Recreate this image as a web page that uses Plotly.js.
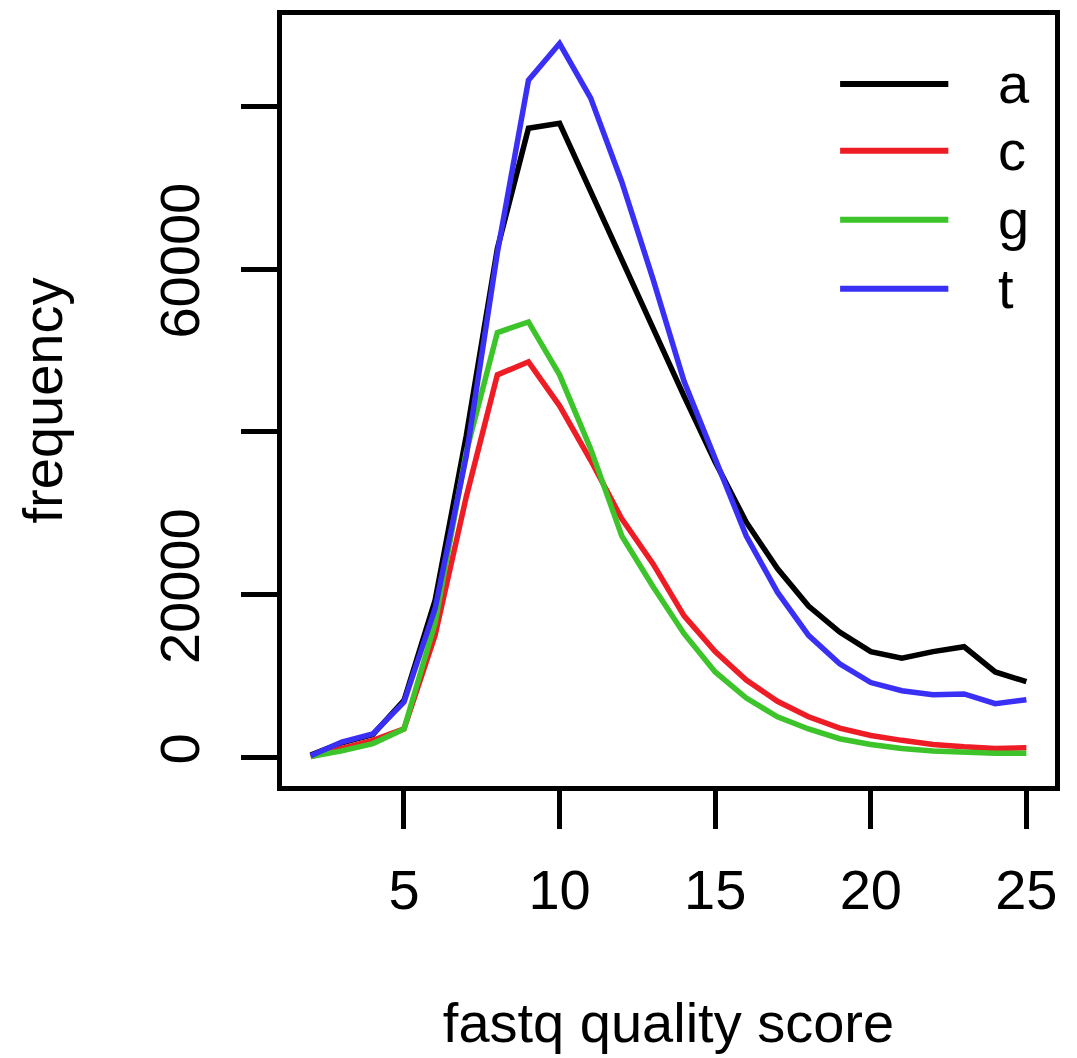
<!DOCTYPE html>
<html>
<head>
<meta charset="utf-8">
<script src="https://cdn.plot.ly/plotly-3.0.1.min.js"></script>
<style>html,body{margin:0;padding:0;background:#fff}#chart{width:1077px;height:1058px}</style>
</head>
<body>
<div id="chart"></div>
<script>
// fastq quality score
var qualityScore = [2,3,4,5,6,7,8,9,10,11,12,13,14,15,16,17,18,19,20,21,22,23,24,25];
// frequency per base
var freqA = [300,1800,2800,7000,19300,39500,62500,77300,77900,69500,61000,52600,44400,36300,28900,23200,18600,15400,13000,12200,13000,13600,10500,9300];
var freqC = [100,1100,2100,3500,15000,32000,47000,48600,43200,36500,29300,23800,17400,13000,9500,6900,5000,3600,2700,2100,1600,1300,1100,1200];
var freqG = [100,800,1700,3500,16500,37500,52200,53500,47000,37900,27200,21000,15200,10500,7300,5000,3500,2300,1600,1100,800,600,500,500];
var freqT = [200,1900,2900,6800,18300,37000,62000,83200,87700,81000,70700,58800,46200,36700,27200,20300,15000,11500,9200,8200,7700,7800,6600,7100];

var seriesNames = ["a","c","g","t"];
var seriesColors = ["#000000","#EE1C24","#3CC42A","#3A30F5"];
var seriesValues = [freqA, freqC, freqG, freqT];

var xTickVals = [5,10,15,20,25];
var yTickVals = [0,20000,40000,60000,80000];
var yTickText = ["0","20000","","60000",""];

var FONT = "Liberation Sans, Arial, Helvetica, sans-serif";
var FS = 56;

var traces = seriesNames.map(function(n,i){
  return {x: qualityScore, y: seriesValues[i], type:"scatter", mode:"lines", name:n,
          line:{color:seriesColors[i], width:5.5}, showlegend:false};
});

// legend drawn as in R (long line samples), positioned in paper coordinates
var shapes = [], annotations = [];
var legY = [0.9106, 0.8238, 0.7345, 0.6451];
seriesNames.forEach(function(n,i){
  shapes.push({type:"line", xref:"paper", yref:"paper", x0:0.722, x1:0.862, y0:legY[i], y1:legY[i],
               line:{color:seriesColors[i], width:6}});
  annotations.push({xref:"paper", yref:"paper", x:0.924, y:legY[i], text:n, showarrow:false,
                    xanchor:"left", yanchor:"middle", font:{family:FONT, size:FS, color:"#000"}});
});

var xmin = 2, xmax = 25, pad = (xmax-xmin)*0.04;
var ymax = 87700, ypad = ymax*0.04;

var layout = {
  width:1077, height:1058,
  margin:{l:282, r:22, t:15, b:272, pad:0},
  paper_bgcolor:"#fff", plot_bgcolor:"#fff",
  font:{family:FONT, size:FS, color:"#000"},
  showlegend:false,
  xaxis:{
    range:[xmin-pad, xmax+pad], tickvals:xTickVals, ticktext:xTickVals.map(String),
    showgrid:false, zeroline:false, showline:true, mirror:true, linewidth:5, linecolor:"#000",
    ticks:"outside", ticklen:38, tickwidth:5, tickcolor:"#000", ticklabelstandoff:13,
    tickfont:{family:FONT, size:FS, color:"#000"}, automargin:false,
    title:{text:"fastq quality score", font:{family:FONT, size:FS, color:"#000"}, standoff:84}
  },
  yaxis:{
    range:[-ypad, ymax+ypad], tickvals:yTickVals, ticktext:yTickText,
    showgrid:false, zeroline:false, showline:true, mirror:true, linewidth:5, linecolor:"#000",
    ticks:"outside", ticklen:36, tickwidth:5, tickcolor:"#000", tickangle:-90, ticklabelstandoff:20,
    tickfont:{family:FONT, size:FS, color:"#000"}, automargin:false,
    title:{text:"frequency", font:{family:FONT, size:FS, color:"#000"}, standoff:68}
  },
  shapes:shapes, annotations:annotations
};

Plotly.newPlot("chart", traces, layout, {displayModeBar:false, staticPlot:true});
</script>
</body>
</html>
